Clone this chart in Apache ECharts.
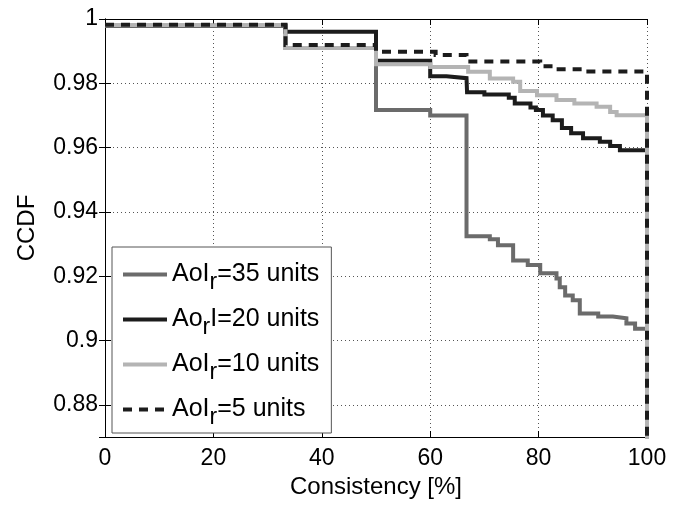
<!DOCTYPE html>
<html>
<head>
<meta charset="utf-8">
<script src="https://cdn.jsdelivr.net/npm/echarts@6/dist/echarts.min.js"></script>
<style>
html,body{margin:0;padding:0;background:#fff;}
#chart{width:674px;height:505px;}
</style>
</head>
<body>
<div id="chart"></div>
<script>
// Breakpoints [consistency %, CCDF]; value holds until next breakpoint
const seriesNames = ['AoI_r=35 units', 'Ao_rI=20 units', 'AoI_r=10 units', 'AoI_r=5 units'];
const legendParts = [
  ['AoI', 'r', '=35 units'],
  ['Ao', 'r', 'I=20 units'],
  ['AoI', 'r', '=10 units'],
  ['AoI', 'r', '=5 units']
];
const aoi35 = [[0,0.998],[33.3,0.991],[50,0.9717],[60,0.970],[66.7,0.9324],[71,0.9315],[72.5,0.9296],[75.3,0.9249],[78,0.9235],[80.3,0.9209],[83.3,0.9193],[83.9,0.9166],[84.9,0.914],[86.3,0.9125],[87.6,0.9084],[91,0.9075],[93.7,0.9069],[96.2,0.9053],[97.8,0.9037],[100,0.85]];
const aoi20 = [[0,0.9978],[33.3,0.996],[50,0.987],[60,0.9822],[63,0.9816],[66.7,0.981],[66.8,0.9772],[70,0.9765],[74.5,0.9755],[75.6,0.9737],[78.5,0.9725],[79.5,0.9717],[80.8,0.970],[82.6,0.9685],[84.3,0.9661],[86,0.9645],[88.2,0.9629],[91.3,0.9618],[93.2,0.9605],[95,0.9592],[100,0.85]];
const aoi10 = [[0,0.998],[33.3,0.991],[50,0.9859],[60,0.9851],[67,0.9836],[71,0.9815],[75.3,0.9805],[76.6,0.9776],[79.7,0.9763],[83.3,0.9748],[86.6,0.9737],[90.7,0.9727],[93.2,0.9711],[94.4,0.9701],[100,0.85]];
const aoi5 = [[0,0.9982],[33.3,0.9919],[50,0.9898],[61,0.9888],[66.7,0.9868],[80.3,0.9853],[83.3,0.9844],[88.2,0.9837],[100,0.85]];
const xTicks = [0,20,40,60,80,100];
const yTicks = [0.88,0.90,0.92,0.94,0.96,0.98,1];

const font = "'Liberation Sans', Arial, Helvetica, sans-serif";
const colors = ['#6b6b6b', '#1c1c1c', '#b4b4b4', '#1c1c1c'];
const dataSets = [aoi35, aoi20, aoi10, aoi5];

const chart = echarts.init(document.getElementById('chart'), null, {renderer:'canvas'});

const gridLine = {show:true, lineStyle:{color:'#555', type:[1,3], width:1}};
const tick = {show:true, inside:true, length:6, lineStyle:{color:'#000'}};

const series = dataSets.map((d, i) => ({
  name: seriesNames[i],
  type: 'line',
  step: 'end',
  data: d,
  symbol: 'none',
  showSymbol: false,
  clip: true,
  animation: false,
  lineStyle: {color: colors[i], width: 4, type: i === 3 ? [9, 7] : 'solid', cap:'butt', join:'miter'},
  itemStyle: {color: colors[i]},
  xAxisIndex: 0, yAxisIndex: 0
}));

const nameToParts = {};
seriesNames.forEach((n, i) => nameToParts[n] = legendParts[i]);

chart.setOption({
  animation: false,
  backgroundColor: '#fff',
  textStyle: {fontFamily: font},
  grid: {left: 105, right: 27, top: 19, bottom: 68, show: false},
  xAxis: [{
    type: 'value', min: 0, max: 100, interval: 20, position: 'bottom',
    name: 'Consistency [%]', nameLocation: 'middle', nameGap: 33,
    nameTextStyle: {fontSize: 24, color: '#000', fontFamily: font},
    axisLine: {show: true, lineStyle: {color: '#000', width: 1}},
    axisTick: tick,
    axisLabel: {fontSize: 23, color: '#000', margin: 10, fontFamily: font},
    splitLine: gridLine
  }, {
    type: 'value', min: 0, max: 100, interval: 20, position: 'top',
    axisLine: {show: true, lineStyle: {color: '#000', width: 1}},
    axisTick: tick, axisLabel: {show: false}, splitLine: {show: false}
  }],
  yAxis: [{
    type: 'value', min: 0.87, max: 1, splitNumber: 6, minInterval: 0.02, maxInterval: 0.02,
    position: 'left',
    name: 'CCDF', nameLocation: 'middle', nameGap: 66, nameRotate: 90,
    nameTextStyle: {fontSize: 24, color: '#000', fontFamily: font},
    axisLine: {show: true, lineStyle: {color: '#000', width: 1}},
    axisTick: tick,
    axisLabel: {fontSize: 23, color: '#000', margin: 7, fontFamily: font, showMinLabel: false,
      formatter: v => (Math.abs(v - 1) < 1e-9 ? '1' : (Math.abs(v*100 - Math.round(v*100)) < 1e-6 && Math.round(v*100) % 2 === 0 ? String(+v.toFixed(2)) : ''))},
    splitLine: gridLine
  }, {
    type: 'value', min: 0.87, max: 1, splitNumber: 6, minInterval: 0.02, maxInterval: 0.02,
    position: 'right',
    axisLine: {show: true, lineStyle: {color: '#000', width: 1}},
    axisTick: tick, axisLabel: {show: false}, splitLine: {show: false}
  }],
  legend: {
    show: true,
    orient: 'vertical',
    left: 112, top: 247,
    padding: [8, 12, 4, 9],
    itemGap: 6,
    itemWidth: 44, itemHeight: 14,
    backgroundColor: '#fff',
    borderColor: '#555', borderWidth: 1,
    lineStyle: {width: 4},
    itemStyle: {color: 'rgba(0,0,0,0)', borderWidth: 0, opacity: 0},
    data: seriesNames,
    formatter: name => {
      const p = nameToParts[name];
      return '{a|' + p[0] + '}{s|' + p[1] + '}{a|' + p[2] + '}';
    },
    textStyle: {
      fontFamily: font, color: '#000', fontSize: 25,
      rich: {
        a: {fontSize: 25, lineHeight: 25, verticalAlign: 'top', fontFamily: font, color: '#000'},
        s: {fontSize: 23, lineHeight: 24, padding: [16, 0, 0, 0], fontFamily: font, color: '#000'}
      }
    }
  },
  series: series
});
</script>
</body>
</html>
